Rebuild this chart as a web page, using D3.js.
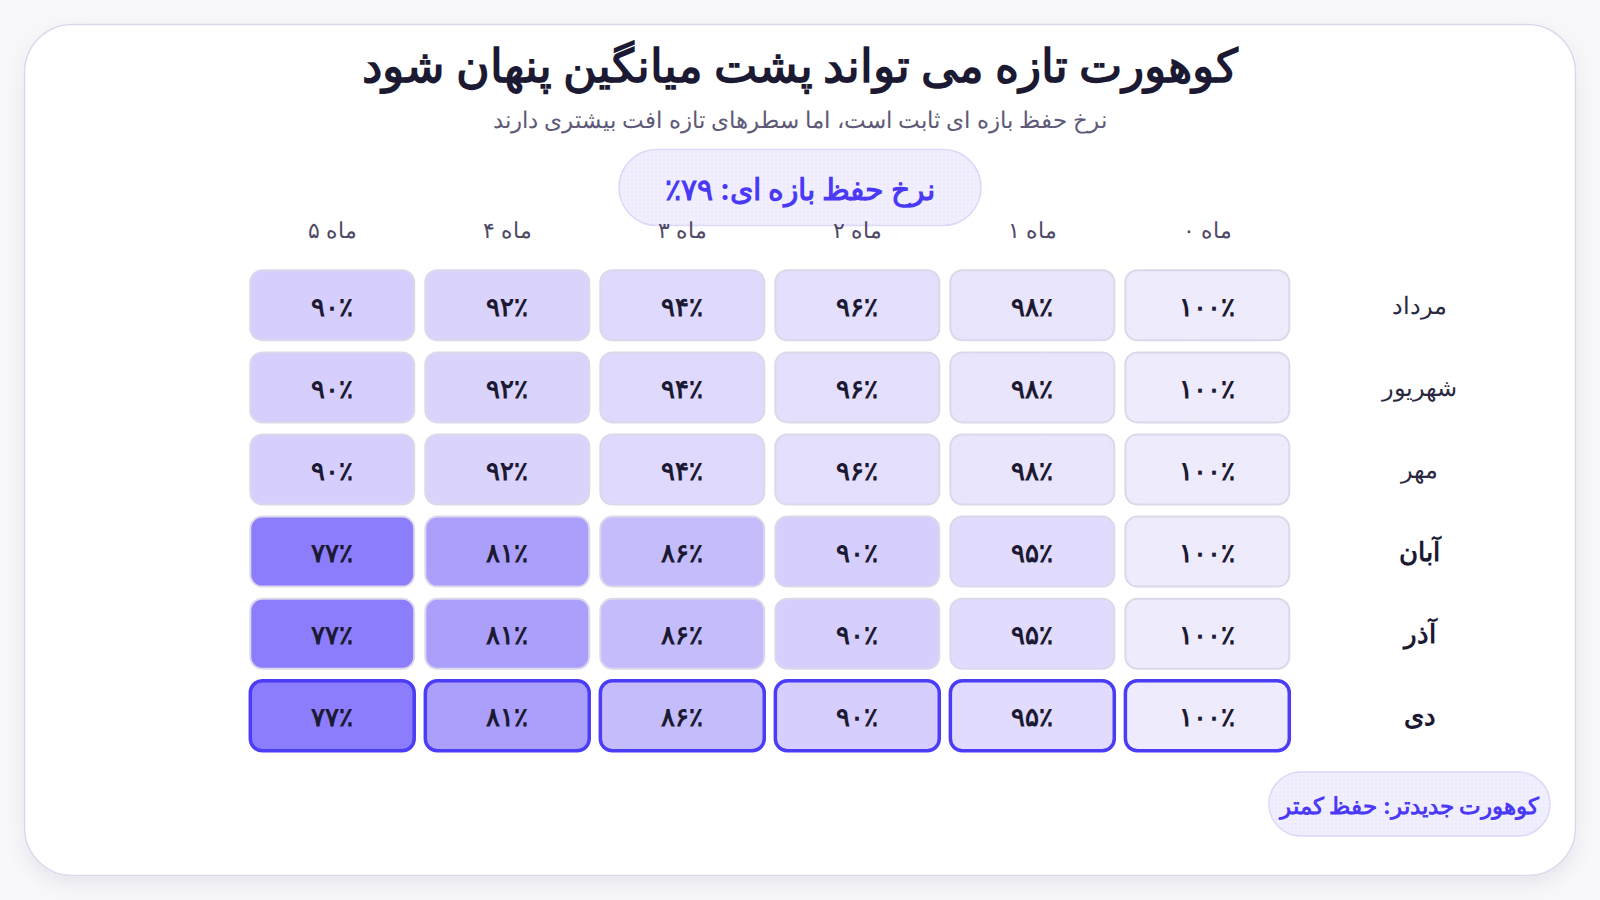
<!DOCTYPE html>
<html lang="fa">
<head>
<meta charset="utf-8">
<script src="https://cdn.jsdelivr.net/npm/d3@7/dist/d3.min.js"></script>
<style>
  html, body { margin: 0; padding: 0; background: #f8f8fa; }
  svg { display: block; font-family: Inter, sans-serif; }
  text { direction: rtl; unicode-bidi: embed; }
</style>
</head>
<body>
<svg id="chart" width="1600" height="900"></svg>
<script>
// ---------- data ----------
const title = "کوهورت تازه می تواند پشت میانگین پنهان شود";
const subtitle = "نرخ حفظ بازه ای ثابت است، اما سطرهای تازه افت بیشتری دارند";
const badgeLabel = "نرخ حفظ بازه ای: ";
const badgeValue = 79;
const noteLabel = "کوهورت جدیدتر: حفظ کمتر";
const cohorts = ["مرداد", "شهریور", "مهر", "آبان", "آذر", "دی"];
const months = ["ماه ۰", "ماه ۱", "ماه ۲", "ماه ۳", "ماه ۴", "ماه ۵"];
const retMordad   = [100, 98, 96, 94, 92, 90];
const retShahrivar= [100, 98, 96, 94, 92, 90];
const retMehr     = [100, 98, 96, 94, 92, 90];
const retAban     = [100, 95, 90, 86, 81, 77];
const retAzar     = [100, 95, 90, 86, 81, 77];
const retDey      = [100, 95, 90, 86, 81, 77];
const boldCohorts = ["آبان", "آذر", "دی"];
const highlightCohort = "دی";
const colorStops = [77, 81, 86, 90, 95, 100];
const colorRange = ["#8c7dfd", "#ab9ffc", "#c5bcfc", "#d6cffd", "#e1dcfd", "#eeebfd"];
const dottedFrom = 98;

const retention = [retMordad, retShahrivar, retMehr, retAban, retAzar, retDey];

// ---------- helpers ----------
const faDigits = "۰۱۲۳۴۵۶۷۸۹";
const toFa = s => String(s).replace(/[0-9]/g, d => faDigits[+d]);
const pct = v => toFa(v) + "٪";

const svg = d3.select("#chart");
const defs = svg.append("defs");

const shadow = defs.append("filter").attr("id", "shadow")
  .attr("x", "-10%").attr("y", "-10%").attr("width", "120%").attr("height", "125%");
shadow.append("feDropShadow").attr("dx", 0).attr("dy", 8).attr("stdDeviation", 10)
  .attr("flood-color", "#2a2060").attr("flood-opacity", 0.08);

const dotsFine = defs.append("pattern").attr("id", "dotsFine")
  .attr("width", 4).attr("height", 4).attr("patternUnits", "userSpaceOnUse");
dotsFine.append("circle").attr("cx", 2).attr("cy", 2).attr("r", 0.7).attr("fill", "#ffffff").attr("opacity", 0.7);

const dotsCell = defs.append("pattern").attr("id", "dotsCell")
  .attr("width", 9).attr("height", 9).attr("patternUnits", "userSpaceOnUse");
dotsCell.append("circle").attr("cx", 4.5).attr("cy", 4.5).attr("r", 0.6).attr("fill", "#c9c3ea").attr("opacity", 0.45);

// ---------- card ----------
svg.append("rect")
  .attr("x", 24.5).attr("y", 24.5).attr("width", 1551).attr("height", 851)
  .attr("rx", 48).attr("fill", "#ffffff")
  .attr("stroke", "#dcd8ec").attr("stroke-width", 1.5)
  .attr("filter", "url(#shadow)");

// ---------- titles ----------
svg.append("text")
  .attr("x", 800).attr("y", 65)
  .attr("text-anchor", "middle").attr("dominant-baseline", "central")
  .attr("font-size", 46).attr("font-weight", 700).attr("fill", "#1c1a33")
  .text(title);

svg.append("text")
  .attr("x", 800).attr("y", 119)
  .attr("text-anchor", "middle").attr("dominant-baseline", "central")
  .attr("font-size", 22.5).attr("fill", "#5e5a78")
  .text(subtitle);

// ---------- badge ----------
const badge = svg.append("g");
badge.append("rect").attr("x", 619).attr("y", 149.5).attr("width", 362).attr("height", 76)
  .attr("rx", 38).attr("fill", "#efecfe").attr("stroke", "#dcd6fb").attr("stroke-width", 1.5);
badge.append("rect").attr("x", 619).attr("y", 149.5).attr("width", 362).attr("height", 76)
  .attr("rx", 38).attr("fill", "url(#dotsFine)");
badge.append("text")
  .attr("x", 800).attr("y", 189)
  .attr("text-anchor", "middle").attr("dominant-baseline", "central")
  .attr("font-size", 30).attr("font-weight", 700).attr("fill", "#4b3af5")
  .text(badgeLabel + pct(badgeValue));

// ---------- scales ----------
const x = d3.scaleBand().domain(months.slice().reverse()).range([249.3, 1290.3]).paddingInner(0.052);
const y = d3.scaleBand().domain(cohorts).range([269.3, 751.8]).paddingInner(0.123);
const color = d3.scaleLinear().domain(colorStops).range(colorRange).interpolate(d3.interpolateRgb);

// ---------- column headers ----------
svg.append("g").selectAll("text").data(months).join("text")
  .attr("x", d => x(d) + x.bandwidth() / 2)
  .attr("y", 230)
  .attr("text-anchor", "middle").attr("dominant-baseline", "central")
  .attr("font-size", 22).attr("fill", "#4e4a66")
  .text(d => d);

// ---------- row labels ----------
svg.append("g").selectAll("text").data(cohorts).join("text")
  .attr("x", 1419.5)
  .attr("y", d => y(d) + y.bandwidth() / 2)
  .attr("text-anchor", "middle").attr("dominant-baseline", "central")
  .attr("font-size", d => boldCohorts.includes(d) ? 26 : 24)
  .attr("font-weight", d => boldCohorts.includes(d) ? 700 : 400)
  .attr("fill", d => boldCohorts.includes(d) ? "#1c1a33" : "#2b2940")
  .text(d => d);

// ---------- cells ----------
const cells = [];
cohorts.forEach((c, i) => months.forEach((m, j) => cells.push({ cohort: c, month: m, value: retention[i][j] })));

const g = svg.append("g");
const cell = g.selectAll("g.cell").data(cells).join("g").attr("class", "cell");

cell.append("rect")
  .attr("x", d => x(d.month) + 1)
  .attr("y", d => y(d.cohort) + 1)
  .attr("width", x.bandwidth() - 2)
  .attr("height", y.bandwidth() - 2)
  .attr("rx", 12)
  .attr("fill", d => color(d.value));

cell.append("rect")
  .attr("x", d => x(d.month) + 1)
  .attr("y", d => y(d.cohort) + 1)
  .attr("width", x.bandwidth() - 2)
  .attr("height", y.bandwidth() - 2)
  .attr("rx", 12)
  .attr("fill", d => d.value >= dottedFrom ? "url(#dotsCell)" : "none")
  .attr("stroke", d => d.cohort === highlightCohort ? "#4b3df5" : "#dcd8ea")
  .attr("stroke-width", d => d.cohort === highlightCohort ? 3.5 : 2);

cell.append("text")
  .attr("x", d => x(d.month) + x.bandwidth() / 2)
  .attr("y", d => y(d.cohort) + y.bandwidth() / 2 + 1)
  .attr("text-anchor", "middle").attr("dominant-baseline", "central")
  .attr("font-size", 26).attr("font-weight", 700).attr("fill", "#1c1a33")
  .text(d => pct(d.value));

// ---------- note pill ----------
const note = svg.append("g");
note.append("rect").attr("x", 1269).attr("y", 772).attr("width", 281).attr("height", 64)
  .attr("rx", 32).attr("fill", "#efecfe").attr("stroke", "#dcd6fb").attr("stroke-width", 1.5);
note.append("rect").attr("x", 1269).attr("y", 772).attr("width", 281).attr("height", 64)
  .attr("rx", 32).attr("fill", "url(#dotsFine)");
note.append("text")
  .attr("x", 1409.5).attr("y", 806)
  .attr("text-anchor", "middle").attr("dominant-baseline", "central")
  .attr("font-size", 23).attr("font-weight", 700).attr("fill", "#4b3af5")
  .text(noteLabel);
</script>
</body>
</html>
